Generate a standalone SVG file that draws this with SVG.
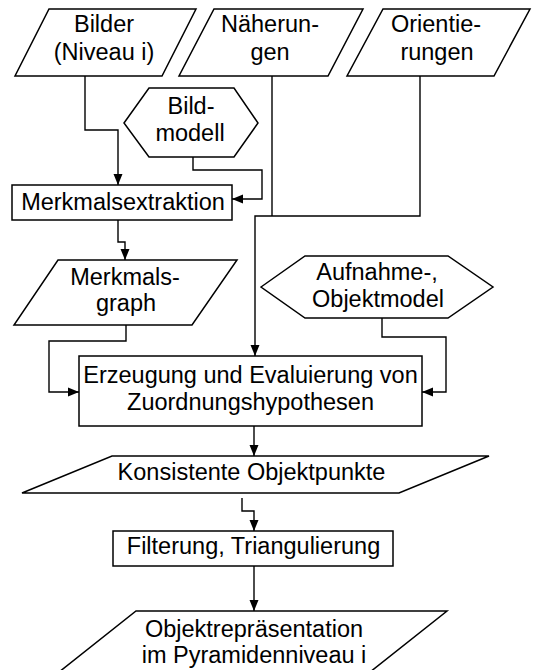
<svg xmlns="http://www.w3.org/2000/svg" width="534" height="670" viewBox="0 0 534 670">
<defs>
<marker id="arr" markerUnits="userSpaceOnUse" markerWidth="12" markerHeight="12" viewBox="0 0 12 12" refX="11" refY="6" orient="auto">
<path d="M0,1.5 L11,6 L0,10.5 Z" fill="#000"/>
</marker>
<style>
.s{fill:#fff;stroke:#000;stroke-width:1.5;stroke-linejoin:miter}
.t{font-family:"Liberation Sans",Arial,Helvetica,sans-serif;font-size:23.5px;fill:#000;text-anchor:middle}
.c{fill:none;stroke:#000;stroke-width:1.4;marker-end:url(#arr)}
.l{fill:none;stroke:#000;stroke-width:1.4}
</style>
</defs>
<rect width="534" height="670" fill="#fff"/>
<g id="connectors">
<polyline class="c" points="85,76 85,130 118,130 118,185"/>
<polyline class="c" points="193,157 193,170 262,170 262,199 232,199"/>
<polyline class="l" points="272,76 272,216"/>
<polyline class="c" points="420,76 420,216 255,216 255,356"/>
<polyline class="c" points="118,220 118,242 125,242 125,260"/>
<polyline class="c" points="126,325 126,341 49,341 49,392 79,392"/>
<polyline class="c" points="382,318 382,337 446,337 446,392 422,392"/>
<polyline class="c" points="254,426 254,456"/>
<polyline class="c" points="242,498 242,511 254,511 254,531"/>
<polyline class="c" points="254,566 254,611"/>
</g>
<g id="bilder">
<polygon class="s" points="49,9 196,9 162,76 15,76"/>
<text class="t" x="104" y="32">Bilder</text>
<text class="t" x="104" y="60">(Niveau i)</text>
</g>
<g id="naeherungen">
<polygon class="s" points="214,9 363,9 328,76 179,76"/>
<text class="t" x="270" y="32">Näherun-</text>
<text class="t" x="270" y="60">gen</text>
</g>
<g id="orientierungen">
<polygon class="s" points="383,9 530,9 494,76 347,76"/>
<text class="t" x="436" y="32">Orientie-</text>
<text class="t" x="437" y="60">rungen</text>
</g>
<g id="bildmodell">
<polygon class="s" points="124,123 149,88 234,88 258,123 234,157 149,157"/>
<text class="t" x="191" y="114">Bild-</text>
<text class="t" x="190" y="141">modell</text>
</g>
<g id="merkmalsextraktion">
<rect class="s" x="12" y="185" width="220" height="35"/>
<text class="t" x="123" y="210">Merkmalsextraktion</text>
</g>
<g id="merkmalsgraph">
<polygon class="s" points="58,260 237,260 192,325 14,325"/>
<text class="t" x="125" y="285">Merkmals-</text>
<text class="t" x="126" y="311">graph</text>
</g>
<g id="aufnahme">
<polygon class="s" points="261,287 305,256 448,256 493,287 448,318 305,318"/>
<text class="t" x="377" y="280">Aufnahme-,</text>
<text class="t" x="378" y="307">Objektmodel</text>
</g>
<g id="erzeugung">
<rect class="s" x="79" y="356" width="343" height="70"/>
<text class="t" x="250.5" y="383">Erzeugung und Evaluierung von</text>
<text class="t" x="250.5" y="410">Zuordnungshypothesen</text>
</g>
<g id="konsistente">
<polygon class="s" points="112,456 489,456 399,493 22,493"/>
<text class="t" x="251.5" y="480">Konsistente Objektpunkte</text>
</g>
<g id="filterung">
<rect class="s" x="113" y="531" width="280" height="35"/>
<text class="t" x="253.5" y="554">Filterung, Triangulierung</text>
</g>
<g id="objektrepraesentation">
<polygon class="s" points="136,611 447,611 360,680 49,680"/>
<text class="t" x="254" y="637">Objektrepräsentation</text>
<text class="t" x="254" y="663">im Pyramidenniveau i</text>
</g>
</svg>
